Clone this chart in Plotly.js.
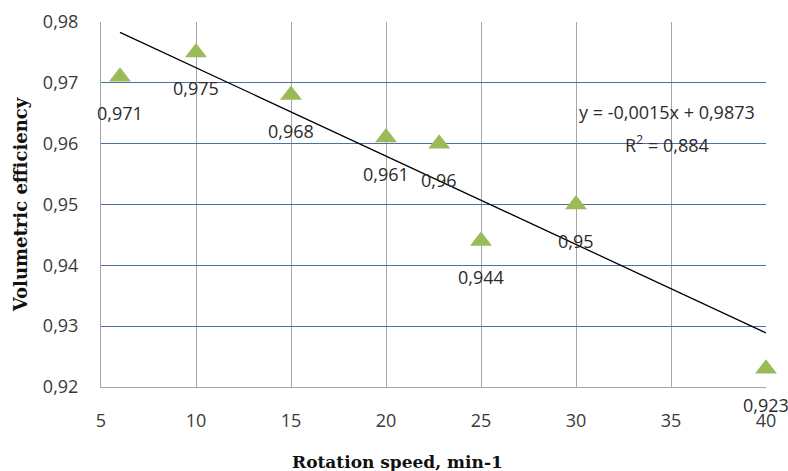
<!DOCTYPE html>
<html>
<head>
<meta charset="utf-8">
<script src="https://cdn.plot.ly/plotly-3.0.1.min.js"></script>
<style>html,body{margin:0;padding:0;background:#fff;}#chart{width:788px;height:471px;}</style>
</head>
<body>
<div id="chart"></div>
<script>
// Data
const speed = [6, 10, 15, 20, 22.8, 25, 30, 40];
const efficiency = [0.971, 0.975, 0.968, 0.961, 0.960, 0.944, 0.950, 0.923];
const trendX = [6, 40];
const trendY = [0.9783, 0.9289];
const xTicks = [5, 10, 15, 20, 25, 30, 35, 40];
const yTicks = [0.92, 0.93, 0.94, 0.95, 0.96, 0.97, 0.98];
const equationText = 'y = -0,0015x + 0,9873';
const r2Text = 'R<sup>2</sup> = 0,884';
const xTitle = 'Rotation speed, min-1';
const yTitle = 'Volumetric efficiency';

const sansFamily = 'Open Sans, Noto Sans, sans-serif';
const serifFamily = 'DejaVu Serif, Liberation Serif, serif';
const labelFont = {family: sansFamily, size: 18, color: '#2b2b2b'};

const traces = [
  {
    x: trendX, y: trendY, type: 'scatter', mode: 'lines',
    line: {color: '#000000', width: 1.3}, hoverinfo: 'skip', showlegend: false
  },
  {
    x: speed, y: efficiency, type: 'scatter', mode: 'markers',
    marker: {symbol: 'triangle-up', size: 19, color: '#9BBB59'},
    cliponaxis: false, showlegend: false
  }
];

const annotations = speed.map((xv, i) => ({
  x: xv, y: efficiency[i], xref: 'x', yref: 'y',
  text: String(efficiency[i]).replace('.', ','),
  showarrow: false, yshift: -36, font: labelFont
}));
annotations.push({
  x: 34.8, y: 0.9652, xref: 'x', yref: 'y', text: equationText,
  showarrow: false, font: {family: sansFamily, size: 18, color: '#2b2b2b'}
});
annotations.push({
  x: 34.8, y: 0.9600, xref: 'x', yref: 'y', text: r2Text,
  showarrow: false, font: {family: sansFamily, size: 18, color: '#2b2b2b'}
});
annotations.push({
  x: 0.4466, y: -0.2055, xref: 'paper', yref: 'paper', xanchor: 'center', yanchor: 'middle',
  text: xTitle, showarrow: false,
  font: {family: serifFamily, size: 17, color: '#111111', weight: 'bold'}
});

const layout = {
  width: 788, height: 471,
  margin: {l: 101, r: 22, t: 22, b: 84},
  paper_bgcolor: '#ffffff', plot_bgcolor: '#ffffff',
  separators: ',.',
  showlegend: false,
  xaxis: {
    range: [5, 40], tickvals: xTicks, ticktext: xTicks.map(String),
    showgrid: true, gridcolor: '#A6A6A6', gridwidth: 1,
    showline: true, linecolor: '#A6A6A6', linewidth: 1, mirror: false,
    zeroline: false, ticks: '', ticklabelstandoff: 17,
    tickfont: {family: sansFamily, size: 18, color: '#3a3a3a'}
  },
  yaxis: {
    range: [0.92, 0.98], tickvals: yTicks, tickformat: '.2f',
    showgrid: true, gridcolor: '#4F6FA8', gridwidth: 1,
    showline: true, linecolor: '#A6A6A6', linewidth: 1,
    zeroline: false, ticks: '', ticklabelstandoff: 18,
    tickfont: {family: sansFamily, size: 18, color: '#3a3a3a'},
    title: {text: yTitle, standoff: 10,
      font: {family: serifFamily, size: 18, color: '#111111', weight: 'bold'}}
  },
  annotations: annotations
};

Plotly.newPlot('chart', traces, layout, {displayModeBar: false, staticPlot: true});
</script>
</body>
</html>
